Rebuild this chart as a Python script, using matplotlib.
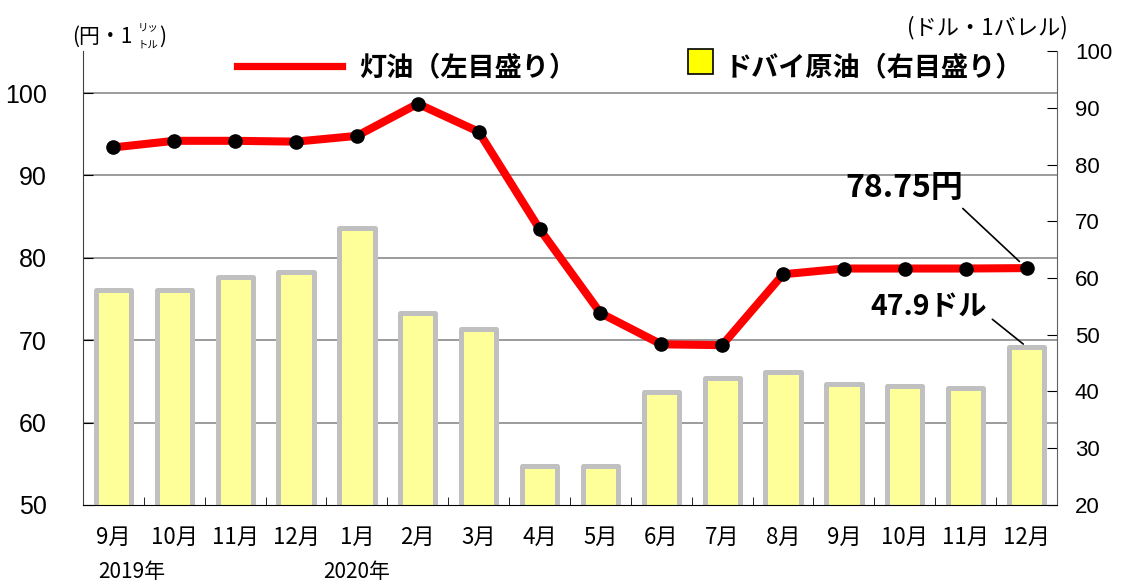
import matplotlib
matplotlib.use("Agg")
import matplotlib.pyplot as plt
from matplotlib.lines import Line2D
from matplotlib.patches import Rectangle

plt.rcParams['font.family'] = ['Noto Sans CJK JP', 'DejaVu Sans']

# data
months = ['9月', '10月', '11月', '12月', '1月', '2月', '3月', '4月',
          '5月', '6月', '7月', '8月', '9月', '10月', '11月', '12月']
kerosene = [93.4, 94.2, 94.2, 94.1, 94.8, 98.7, 95.3, 83.5,
            73.3, 69.5, 69.4, 78.0, 78.7, 78.7, 78.7, 78.75]   # 円/L (left)
dubai = [57.9, 57.9, 60.1, 61.1, 68.8, 53.8, 51.0, 26.9,
         26.9, 39.9, 42.4, 43.4, 41.3, 41.0, 40.6, 47.9]       # $/bbl (right)
years = ['2019年', '2020年']
year_pos = [0.3, 4]
left_ticks = [50, 60, 70, 80, 90, 100]
right_ticks = [20, 30, 40, 50, 60, 70, 80, 90, 100]

x = list(range(len(months)))

fig = plt.figure(figsize=(11.28, 5.83), dpi=100)
ax = fig.add_axes([0.0736, 0.1338, 0.8634, 0.7787])
ax2 = ax.twinx()
ax.set_zorder(ax2.get_zorder() + 1)
ax.patch.set_visible(False)

# bars on the right scale
ax2.bar(x, dubai, width=0.58, color='#FFFF99', edgecolor='#C0C0C0',
        linewidth=3.6, joinstyle='round', zorder=2)
# gridlines from left scale, behind the bars
for v in left_ticks[1:]:
    ax2.plot([0, 1], [v, v], transform=ax.get_yaxis_transform(),
             color='#808080', lw=1.1, zorder=1)
ax2.set_ylim(20, 100)
ax2.set_yticks(right_ticks)
ax2.tick_params(axis='y', direction='in', length=7, pad=13, labelsize=16,
                labelfontfamily='Liberation Sans')

# kerosene line
ax.plot(x, kerosene, color='#FF0000', lw=5.8, marker='o', markersize=9.5,
        markerfacecolor='black', markeredgecolor='black', zorder=3)
ax.set_ylim(50, 105.1)
ax.set_xlim(-0.5, len(months) - 0.5)
ax.set_yticks(left_ticks)
ax.tick_params(axis='y', direction='in', length=7, pad=26, labelsize=18,
               labelfontfamily='Liberation Sans')
ax.set_xticks(x)
ax.set_xticklabels(months, fontsize=16)
ax.set_xticks([i + 0.5 for i in x[:-1]], minor=True)
ax.tick_params(axis='x', which='major', length=0, pad=15)
ax.tick_params(axis='x', which='minor', direction='in', length=6)

for a in (ax, ax2):
    a.spines['top'].set_visible(False)
ax2.spines['left'].set_visible(False)
ax2.spines['bottom'].set_visible(False)
ax.spines['right'].set_visible(False)
ax.spines['left'].set_color('#404040')
ax2.spines['right'].set_color('#606060')

for yr, p in zip(years, year_pos):
    ax.text(p, -0.148, yr, transform=ax.get_xaxis_transform(), ha='center',
            va='center', fontsize=15)

# axis unit labels
fig.text(0.064, 0.937, '(円・1', fontsize=15, ha='left', va='center')
fig.text(0.122, 0.953, 'リッ', fontsize=7.5, ha='left', va='center')
fig.text(0.122, 0.924, 'トル', fontsize=7.5, ha='left', va='center')
fig.text(0.141, 0.937, ')', fontsize=15, ha='left', va='center')
fig.text(0.875, 0.952, '(ドル・1バレル)', fontsize=16, ha='center', va='center')

# legend
fig.add_artist(Line2D([0.210, 0.303], [0.887, 0.887], color='#FF0000', lw=5.2))
fig.text(0.318, 0.884, '灯油（左目盛り）', fontsize=19.5, fontweight='bold',
         ha='left', va='center')
fig.add_artist(Rectangle((0.610, 0.873), 0.0222, 0.0429, facecolor='#FFFF00',
                         edgecolor='black', lw=1.2))
fig.text(0.642, 0.884, 'ドバイ原油（右目盛り）', fontsize=19.5, fontweight='bold',
         ha='left', va='center')

# callouts
ax.annotate('78.75円', xy=(x[-1], kerosene[-1]), xytext=(13.0, 88.5),
            fontsize=23, fontweight='bold', ha='center', va='center',
            arrowprops=dict(arrowstyle='-', color='black', lw=1.2,
                            relpos=(0.95, 0.0), shrinkA=2, shrinkB=7))
ax2.annotate('47.9ドル', xy=(x[-1], dubai[-1]), xytext=(13.4, 54.9),
             fontsize=20.5, fontweight='bold', ha='center', va='center',
             arrowprops=dict(arrowstyle='-', color='black', lw=1.2,
                             relpos=(1.0, 0.2), shrinkA=2, shrinkB=3))

fig.savefig('out.png', dpi=100)
